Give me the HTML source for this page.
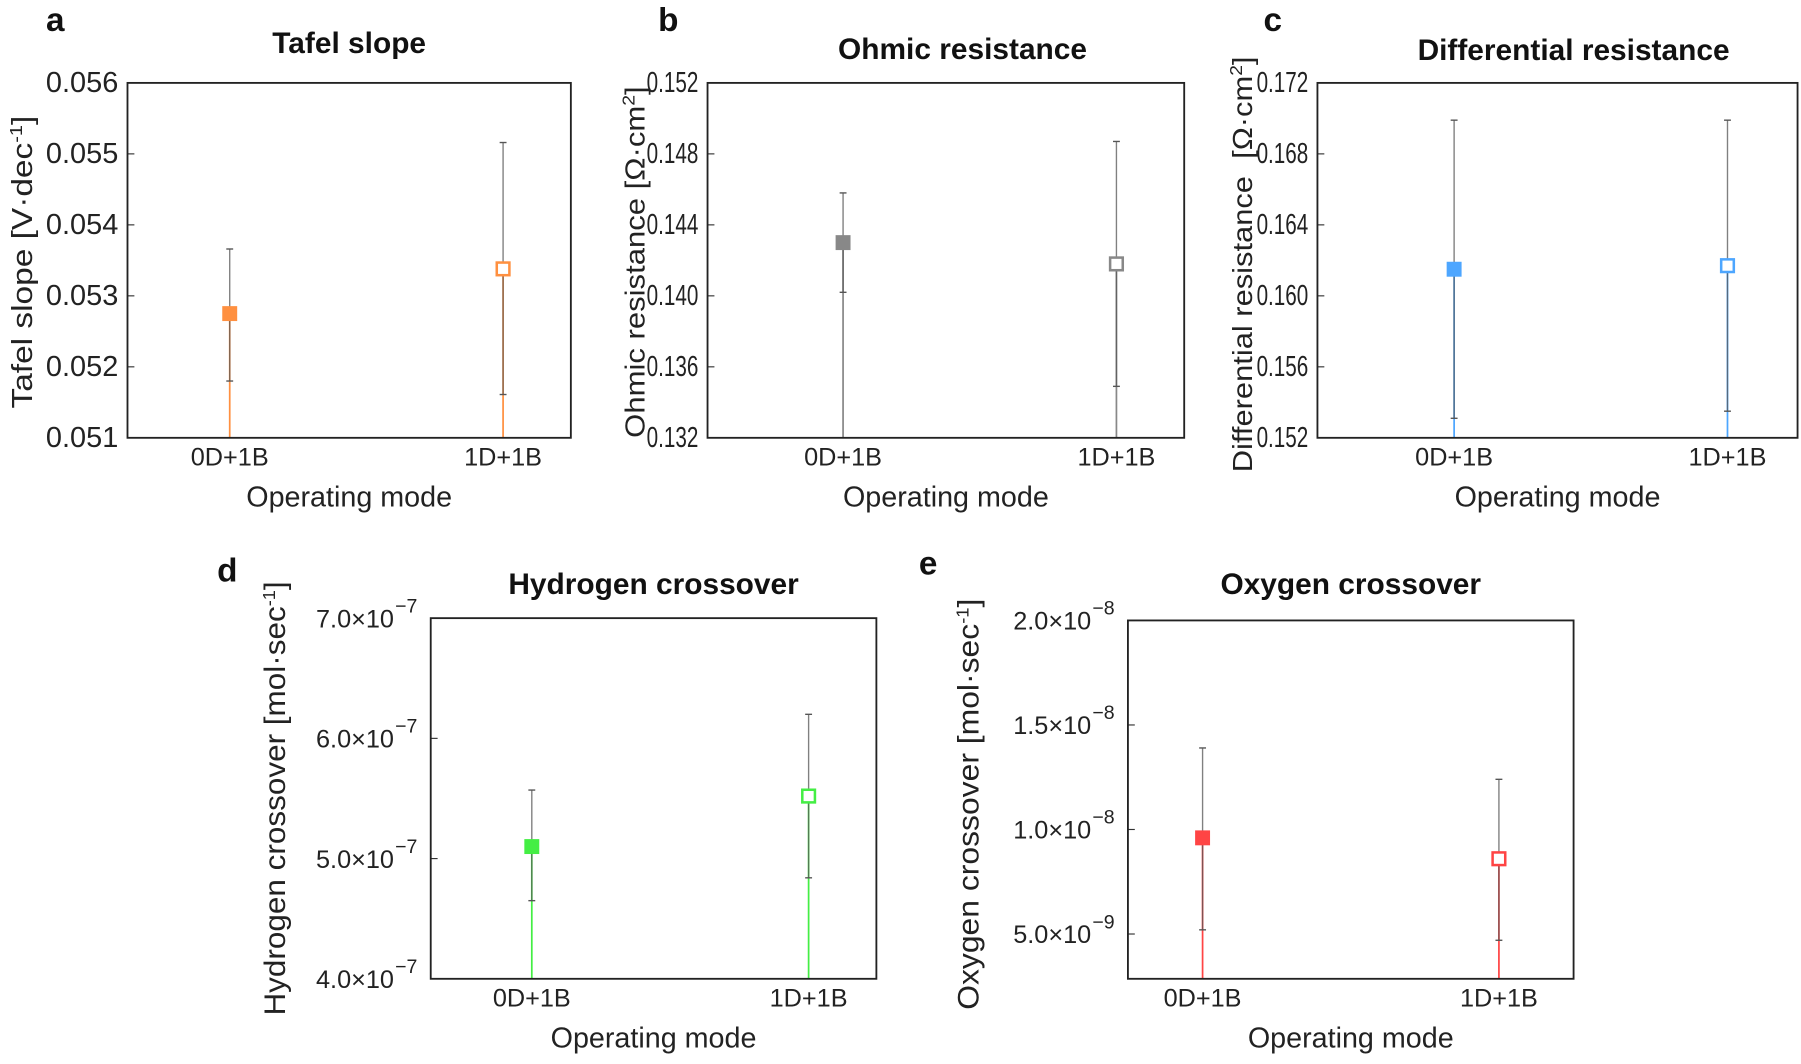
<!DOCTYPE html>
<html><head><meta charset="utf-8"><style>
html,body{margin:0;padding:0;background:#fff;}
svg{display:block;font-family:"Liberation Sans",Arial,sans-serif;}
</style></head><body>
<svg id="fig" width="1801" height="1064" viewBox="0 0 1568 926"></svg>
<script>
const categories = ["0D+1B","1D+1B"];
const tafelValues = [0.05275, 0.05338];
const tafelLow = [0.05180, 0.05161];
const tafelHigh = [0.05366, 0.05516];
const tafelTicks = ["0.051","0.052","0.053","0.054","0.055","0.056"];
const ohmicValues = [0.1430, 0.1418];
const ohmicLow = [0.1402, 0.1349];
const ohmicHigh = [0.1458, 0.1487];
const ohmicTicks = ["0.132","0.136","0.140","0.144","0.148","0.152"];
const diffValues = [0.1615, 0.1617];
const diffLow = [0.1531, 0.1535];
const diffHigh = [0.1699, 0.1699];
const diffTicks = ["0.152","0.156","0.160","0.164","0.168","0.172"];
const h2Values = [5.10e-7, 5.52e-7];
const h2Low = [4.65e-7, 4.84e-7];
const h2High = [5.57e-7, 6.20e-7];
const h2Ticks = [4.0e-7, 5.0e-7, 6.0e-7, 7.0e-7];
const o2Values = [9.6e-9, 8.6e-9];
const o2Low = [5.2e-9, 4.7e-9];
const o2High = [1.39e-8, 1.24e-8];
const o2Ticks = [5.0e-9, 1.0e-8, 1.5e-8, 2.0e-8];

const NS="http://www.w3.org/2000/svg";
const svg=document.getElementById('fig');
function mk(tag,attrs,parent){const e=document.createElementNS(NS,tag);for(const k in attrs)e.setAttribute(k,attrs[k]);(parent||svg).appendChild(e);return e;}
function txt(s,attrs,parent){const e=mk('text',attrs,parent);e.textContent=s;return e;}
function sci(v){const exp=Math.floor(Math.log10(v)+1e-9);const m=(v/Math.pow(10,exp)).toFixed(1);return [m+"×10","−"+Math.abs(exp)];}

function panel(o){
  const g=mk('g',{});
  
  
  const ys=v=>o.y1-(v-o.vmin)/(o.vmax-o.vmin)*(o.y1-o.y0);
  const xs=[o.cx0,o.cx1];
  const letter=txt(o.letter,{x:o.lx,y:o.ly,'font-size':29,'font-weight':'bold',fill:'#111'},g);
  
  
  const t=txt(o.title,{x:o.tx,y:o.ty,'font-size':26,'font-weight':'bold','text-anchor':'middle',fill:'#111'},g);
  
  
  o.ticks.forEach(tv=>{
    const v=typeof tv==='string'?parseFloat(tv):tv;
    const y=ys(v);
    mk('line',{x1:o.x0,x2:o.x0+6,y1:y,y2:y,stroke:'#333','stroke-width':1},g);
    if(typeof tv==='string'){
      const l=txt(tv,{x:o.x0-8-o.tickLen,y:y+8,'font-size':o.tickFs,textLength:o.tickLen,lengthAdjust:'spacingAndGlyphs',fill:'#222'},g);
      
      
    }else{
      const p=sci(tv);
      const l=mk('text',{x:o.x0-32,y:y+8,'font-size':22,'text-anchor':'end',fill:'#222'},g);
      l.textContent=p[0];
      
      
      const s=txt(p[1],{x:o.x0-31,y:y-5,'font-size':17,fill:'#222'},g);
      
      
    }
  });
  categories.forEach((c,i)=>{
    const l=txt(c,{x:xs[i],y:o.y1+24,'font-size':22,'text-anchor':'middle',fill:'#222'},g);
    
    
  });
  const xt=txt('Operating mode',{x:(o.x0+o.x1)/2,y:o.y1+60,'font-size':25,'text-anchor':'middle',fill:'#222'},g);
  
  
  const yt=mk('text',{transform:`translate(${o.ylx},${o.yly}) rotate(-90)`,'font-size':o.ylfs,'text-anchor':'middle',textLength:o.ylLen,lengthAdjust:'spacingAndGlyphs',fill:'#222'},g);
  yt.innerHTML=o.ylabel;
  
  
  o.values.forEach((v,i)=>{
    const x=xs[i];
    const stem=mk('line',{x1:x,x2:x,y1:o.y1,y2:ys(v),stroke:o.color,'stroke-width':1.5},g);
    
    
    const eb=mk('line',{x1:x,x2:x,y1:ys(o.high[i]),y2:ys(o.low[i]),stroke:'#555','stroke-opacity':0.75,'stroke-width':1.2},g);
    
    
    [o.high[i],o.low[i]].forEach(cv=>{mk('line',{x1:x-3,x2:x+3,y1:ys(cv),y2:ys(cv),stroke:'#555','stroke-width':1.2},g);});
    const m=mk('rect',i===0?{x:x-6.5,y:ys(v)-6.5,width:13,height:13,fill:o.color}:{x:x-5.5,y:ys(v)-5.5,width:11,height:11,fill:'#fff',stroke:o.color,'stroke-width':2.2},g);
    
    
  });
  const box=mk('rect',{x:o.x0,y:o.y0,width:o.x1-o.x0,height:o.y1-o.y0,fill:'none',stroke:'#222','stroke-width':1.6},g);
  
  
}
const sup=s=>`<tspan baseline-shift="super" font-size="15">${s}</tspan>`;
panel({name:'panel-a-tafel-slope',letter:'a',lx:40,ly:27,title:'Tafel slope',tx:304,ty:46,x0:111,x1:497,y0:72,y1:381,cx0:200,cx1:438,vmin:0.051,vmax:0.056,ticks:tafelTicks,tickLen:63,tickFs:25,values:tafelValues,low:tafelLow,high:tafelHigh,color:'#ff9040',ylx:28,yly:228,ylfs:25,ylLen:255,ylabel:'Tafel slope [V·dec'+sup('-1')+']'});
panel({name:'panel-b-ohmic-resistance',letter:'b',lx:573,ly:27,title:'Ohmic resistance',tx:838,ty:51,x0:616,x1:1031,y0:72,y1:381,cx0:734,cx1:972,vmin:0.132,vmax:0.152,ticks:ohmicTicks,tickLen:45,tickFs:25,values:ohmicValues,low:ohmicLow,high:ohmicHigh,color:'#888888',ylx:561,yly:228,ylfs:24,ylLen:306,ylabel:'Ohmic resistance [Ω·cm'+sup('2')+']'});
panel({name:'panel-c-differential-resistance',letter:'c',lx:1100,ly:27,title:'Differential resistance',tx:1370,ty:52,x0:1147,x1:1565,y0:72,y1:381,cx0:1266,cx1:1504,vmin:0.152,vmax:0.172,ticks:diffTicks,tickLen:45,tickFs:25,values:diffValues,low:diffLow,high:diffHigh,color:'#4da6ff',ylx:1090,yly:230,ylfs:24,ylLen:362,ylabel:'Differential resistance &#160;[Ω·cm'+sup('2')+']'});
panel({name:'panel-d-hydrogen-crossover',letter:'d',lx:189,ly:506,title:'Hydrogen crossover',tx:569,ty:517,x0:375,x1:763,y0:538,y1:852,cx0:463,cx1:704,vmin:4.0e-7,vmax:7.0e-7,ticks:h2Ticks,values:h2Values,low:h2Low,high:h2High,color:'#44ee44',ylx:248,yly:695,ylfs:26,ylLen:378,ylabel:'Hydrogen crossover [mol·sec'+sup('-1')+']'});
panel({name:'panel-e-oxygen-crossover',letter:'e',lx:800,ly:500,title:'Oxygen crossover',tx:1176,ty:517,x0:982,x1:1370,y0:540,y1:852,cx0:1047,cx1:1305,vmin:5.0e-9-39/182*1e-8,vmax:2.0e-8,ticks:o2Ticks,values:o2Values,low:o2Low,high:o2High,color:'#ff4444',ylx:852,yly:700,ylfs:26,ylLen:358,ylabel:'Oxygen crossover [mol·sec'+sup('-1')+']'});
</script>
</body></html>
